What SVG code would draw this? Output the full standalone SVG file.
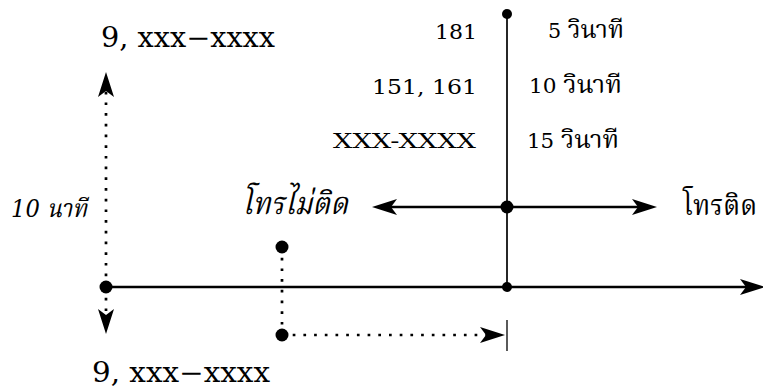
<svg xmlns="http://www.w3.org/2000/svg" width="763" height="392" viewBox="0 0 763 392">
  <style>
    .t { font-family: "DejaVu Serif", "Noto Serif Thai", "Noto Sans Thai", "Noto Sans", serif; fill: #000; }
    .big { font-size: 27px; }
    .mid { font-size: 21px; }
    .th { font-size: 25px; }
    .it { font-style: italic; font-size: 25px; }
    .thai { font-size: 31px; }
    .solid { stroke: #000; stroke-width: 2.4; fill: none; }
    .thin { stroke: #000; stroke-width: 1.7; fill: none; }
    .dot { stroke: #000; stroke-width: 2.7; fill: none; stroke-dasharray: 2.7 8; }
    .arr { marker-end: url(#head); }
  </style>
  <defs>
    <marker id="head" markerUnits="userSpaceOnUse" viewBox="-8 -9 29 18" markerWidth="29" markerHeight="18" refX="0" refY="0" orient="auto">
      <path d="M19,0 L-6,-8 L0,0 L-6,8 Z" fill="#000"/>
    </marker>
  </defs>
  <rect width="763" height="392" fill="#fff"/>

  <g id="connectors">
    <line class="thin" x1="507" y1="14" x2="507" y2="287"/>
    <line class="solid arr" x1="106" y1="287" x2="746" y2="287"/>
    <line class="solid arr" x1="507" y1="207" x2="638" y2="207"/>
    <line class="solid arr" x1="507" y1="207" x2="391" y2="207"/>
    <line class="thin" x1="507" y1="320" x2="507" y2="351" style="stroke-width:1.3"/>
    <line class="dot arr" x1="282" y1="335" x2="486" y2="335"/>
    <line class="dot" x1="282" y1="247" x2="282" y2="335"/>
    <line class="dot arr" x1="106" y1="287" x2="106" y2="91"/>
    <line class="dot arr" x1="106" y1="287" x2="106" y2="315"/>
  </g>

  <g id="dot-top"><circle cx="507" cy="14" r="5"/></g>
  <g id="dot-center"><circle cx="507" cy="207" r="6.5"/></g>
  <g id="dot-axis"><circle cx="507" cy="287" r="5"/></g>
  <g id="dot-start"><circle cx="106" cy="287" r="6.5"/></g>
  <g id="dot-a"><circle cx="282" cy="247" r="6.5"/></g>
  <g id="dot-b"><circle cx="282" cy="335" r="6.5"/></g>

  <g id="label-top"><text class="t big" x="101" y="47" textLength="174" lengthAdjust="spacingAndGlyphs">9, xxx−xxxx</text></g>
  <g id="label-bottom"><text class="t big" x="92" y="382" textLength="178" lengthAdjust="spacingAndGlyphs">9, xxx−xxxx</text></g>
  <g id="label-181"><text class="t mid" x="477" y="39" text-anchor="end" textLength="42" lengthAdjust="spacingAndGlyphs">181</text></g>
  <g id="label-151"><text class="t mid" x="477" y="94" text-anchor="end" textLength="105" lengthAdjust="spacingAndGlyphs">151, 161</text></g>
  <g id="label-xxx"><text class="t mid" x="476" y="148" text-anchor="end" textLength="143" lengthAdjust="spacingAndGlyphs">XXX-XXXX</text></g>
  <g id="label-5s"><text class="t mid" x="548" y="38" textLength="76" lengthAdjust="spacingAndGlyphs">5 <tspan class="th">วินาที</tspan></text></g>
  <g id="label-10s"><text class="t mid" x="529" y="93" textLength="93" lengthAdjust="spacingAndGlyphs">10 <tspan class="th">วินาที</tspan></text></g>
  <g id="label-15s"><text class="t mid" x="527" y="148" textLength="92" lengthAdjust="spacingAndGlyphs">15 <tspan class="th">วินาที</tspan></text></g>
  <g id="label-10m"><text class="t it" x="11" y="217" textLength="76" lengthAdjust="spacingAndGlyphs">10 นาที</text></g>
  <g id="label-fail"><text class="t it thai" x="242" y="214" textLength="106" lengthAdjust="spacingAndGlyphs">โทรไม่ติด</text></g>
  <g id="label-ok"><text class="t" style="font-size:28px" x="683" y="215" textLength="74" lengthAdjust="spacingAndGlyphs">โทรติด</text></g>
</svg>
